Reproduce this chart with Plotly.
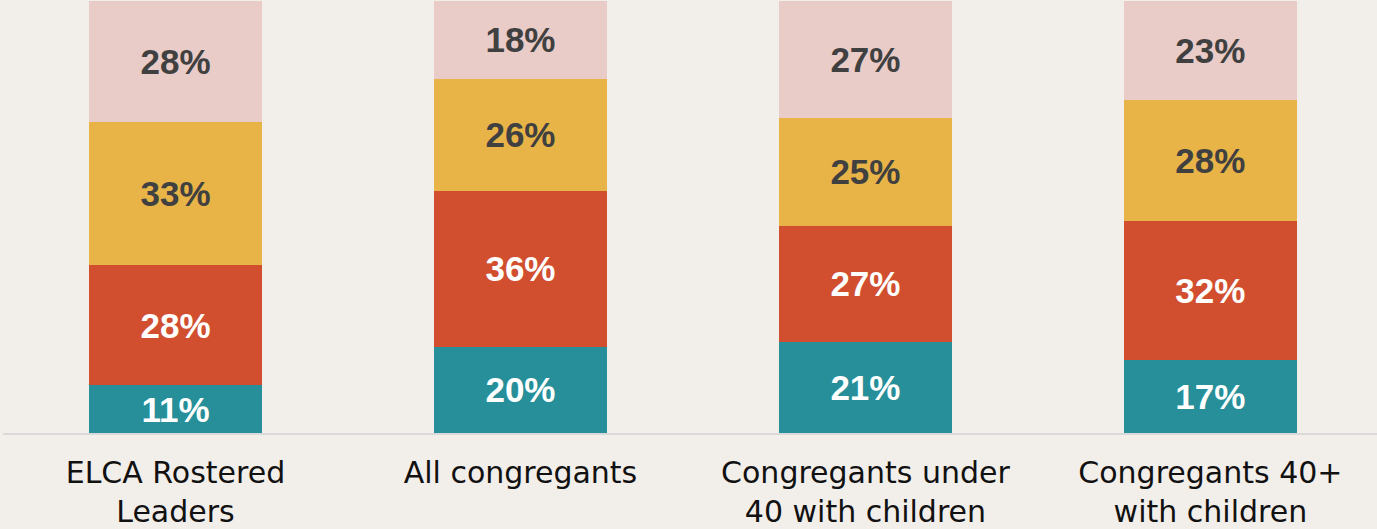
import plotly.graph_objects as go

categories = ["ELCA Rostered<br>Leaders", "All congregants", "Congregants under<br>40 with children", "Congregants 40+<br>with children"]
teal_vals = [11, 20, 21, 17]
red_vals = [28, 36, 27, 32]
yellow_vals = [33, 26, 25, 28]
pink_vals = [28, 18, 27, 23]

series = [
    (teal_vals, "#268F99", "white"),
    (red_vals, "#D14F2F", "white"),
    (yellow_vals, "#E8B448", "#404040"),
    (pink_vals, "#E9CBC7", "#404040"),
]

BG = "#F2EEEA"
fig = go.Figure()
for vals, color, tcolor in series:
    fig.add_trace(go.Bar(
        x=categories, y=vals,
        marker=dict(color=color, line=dict(width=0)),
        width=0.5,
        text=[f"{v}%" for v in vals],
        textposition="inside",
        insidetextanchor="middle",
        textangle=0,
        constraintext="none",
        textfont=dict(family="Liberation Sans", size=35, color=tcolor, weight="bold"),
        hoverinfo="skip",
    ))

fig.update_layout(
    barmode="stack",
    width=1377, height=529,
    margin=dict(l=3, r=0, t=1, b=96),
    paper_bgcolor=BG, plot_bgcolor=BG,
    showlegend=False,
    xaxis=dict(
        range=[-0.5, 3.483],
        showline=True, linecolor="#D9D9D9", linewidth=2,
        showgrid=False, zeroline=False,
        tickfont=dict(family="DejaVu Sans", size=30, color="#111111"),
        ticks="",
        ticklabelstandoff=12,
        automargin=False,
    ),
    yaxis=dict(range=[0, 100], visible=False, showgrid=False, zeroline=False, automargin=False),
)

fig.write_html("out.html", config={"displayModeBar": False},
               post_script="document.body.style.margin='0';document.body.style.background='%s';" % BG)
